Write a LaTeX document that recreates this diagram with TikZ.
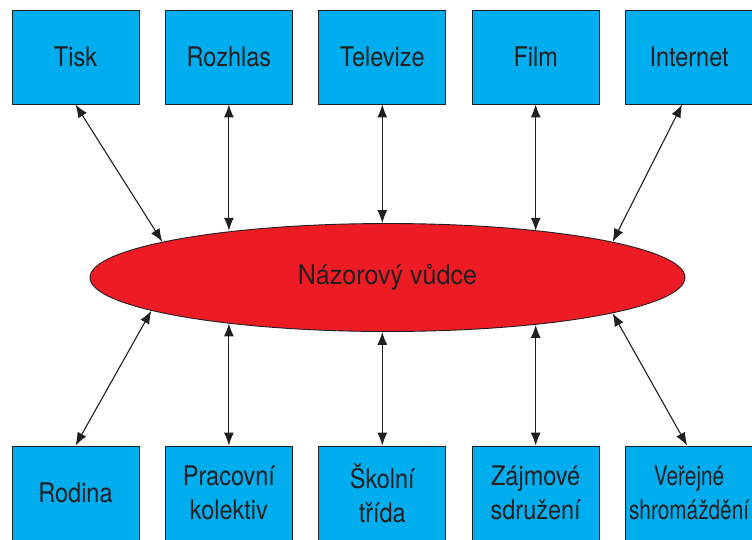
\documentclass[tikz,border=0pt]{standalone}
\usepackage{fontspec}
\setmainfont[FakeStretch=0.87]{TeX Gyre Heros}
\newfontfamily\widefont[FakeStretch=0.93]{TeX Gyre Heros}
\newfontfamily\narrowfont[FakeStretch=0.77]{TeX Gyre Heros}
\usetikzlibrary{shapes.geometric,arrows.meta}
\definecolor{mediablue}{HTML}{00AEEF}
\definecolor{leaderred}{HTML}{ED1C24}
\definecolor{inkgray}{HTML}{231F20}
\tikzset{
  mediumbox/.style={draw=inkgray,line width=0.9pt,fill=mediablue,text=inkgray,
    minimum width=127pt,minimum height=94pt,inner sep=0pt,align=center,
    font=\fontsize{27}{34}\selectfont},
  leaderell/.style={ellipse,draw=inkgray,line width=0.9pt,fill=leaderred,text=inkgray,
    minimum width=595pt,minimum height=108pt,inner sep=0pt,
    font=\widefont\fontsize{27}{34}\selectfont},
  link/.style={{Latex[length=13pt,width=10pt]}-{Latex[length=13pt,width=10pt]},
    draw=inkgray,line width=1.1pt}
}
\begin{document}
\begin{tikzpicture}[x=1pt,y=-1pt]
      \useasboundingbox (0,0) rectangle (752,539);
      \path
        (387.5,277.5) node[leaderell] (leader){Názorový vůdce}
        (75.5,57) node[mediumbox] (tisk){Tisk}
        (228.9,57) node[mediumbox] (rozhlas){Rozhlas}
        (382.3,57) node[mediumbox] (televize){Televize}
        (535.7,57) node[mediumbox] (film){Film}
        (689.1,57) node[mediumbox] (internet){Internet}
        (75.5,493) node[mediumbox] (rodina){Rodina}
        (228.9,493) node[mediumbox] (kolektiv){Pracovní\\kolektiv}
        (382.3,493) node[mediumbox] (trida){Školní\\třída}
        (535.7,493) node[mediumbox] (sdruzeni){Zájmové\\sdružení}
        (689.1,493) node[mediumbox,font=\narrowfont\fontsize{27}{34}\selectfont]
          (shromazdeni){Veřejné\\shromáždění};
      \begin{scope}[link]
        \draw (tisk.south) to (leader.171.4);
        \draw (rozhlas.south) to (rozhlas.south |- leader.163.9);
        \draw (televize.south) to (televize.south |- leader.95.5);
        \draw (film.south) to (film.south |- leader.17.5);
        \draw ([xshift=-7pt]internet.south) to (leader.9.3);
        \draw (rodina.north) to (leader.188.7);
        \draw (kolektiv.north) to (kolektiv.north |- leader.196.1);
        \draw (trida.north) to (trida.north |- leader.264.5);
        \draw (sdruzeni.north) to (sdruzeni.north |- leader.342.5);
        \draw ([xshift=-2pt]shromazdeni.north) to (leader.351.4);
      \end{scope}
    \end{tikzpicture}
\end{document}
